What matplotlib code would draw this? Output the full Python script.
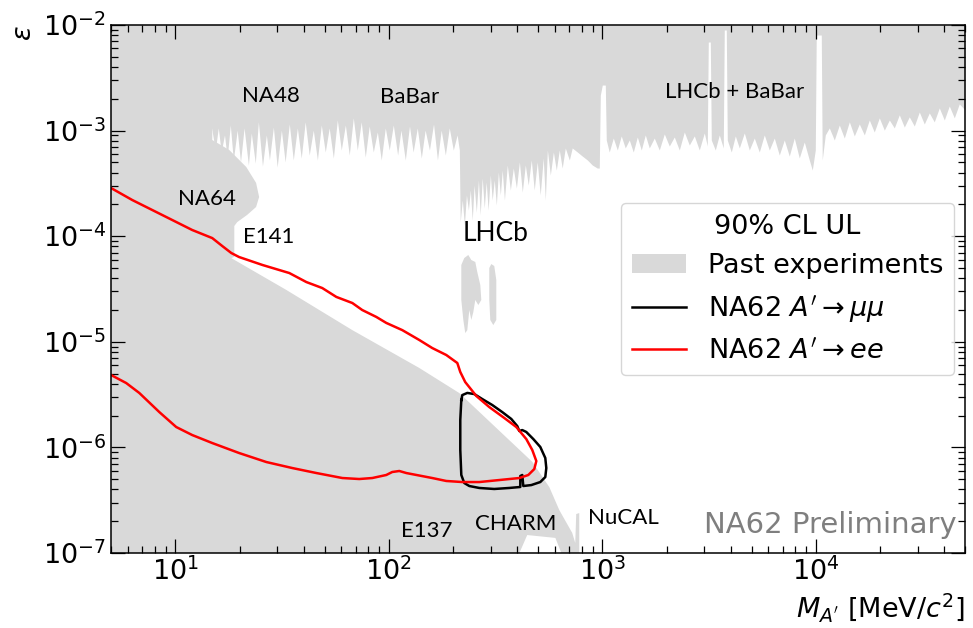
import numpy as np
import matplotlib.pyplot as plt

# --- excluded by past experiments: upper edge of the NA48 / BaBar / LHCb band ---
top_mass = [14.9, 15.4, 15.9, 16.4, 17.0, 17.5, 18.1, 18.7, 19.5, 20.2, 21.0, 22.0, 22.7, 23.7, 24.5,
            25.6, 26.7, 27.6, 28.8, 30.0, 31.4, 32.7, 34.2, 35.7, 37.3, 38.9, 40.6, 42.4, 44.3, 46.3,
            48.3, 50.4, 52.6, 55.0, 57.4, 59.9, 62.6, 65.3, 68.2, 71.2, 74.3, 77.6, 81.0, 84.6, 88.4,
            92.2, 96.3, 100.5, 105, 110, 114, 119.5, 125, 130, 136, 142, 148, 155, 162, 169, 176, 184,
            192, 200.5, 209,
            # LHCb
            214, 216, 221, 226, 231, 236, 241, 246, 251, 257, 263, 268, 274, 280, 286, 292, 299, 305,
            312, 319, 326, 333, 340, 348, 359, 371, 383, 396, 409, 422, 436, 450, 465, 480, 496, 512,
            529, 541, 553, 571, 590, 609, 629, 649, 671, 701, 723, 764, 806, 851, 898, 947, 968, 979,
            1000, 1033,
            # LHCb + BaBar
            1044, 1078, 1126, 1176, 1227, 1281, 1338, 1397, 1459, 1523, 1590, 1660, 1752, 1849, 1952,
            2060, 2174, 2295, 2422, 2556, 2698, 2847, 3005, 3103, 3137, 3206, 3240, 3383, 3532, 3687,
            3727, 3809, 3850, 4020, 4198, 4383, 4626, 4882, 5152, 5438, 5739, 6057, 6392, 6746, 7120,
            7514, 7930, 8369, 8833, 9324, 9630, 9947, 10050, 10610, 10720, 11080, 11570, 12210, 12890,
            13600, 14360, 15150, 15990, 16880, 17810, 18790, 19840, 20940, 22100, 23320, 24610, 25980,
            27410, 28940, 30540, 32230, 34010, 35890, 37890, 39990, 42200, 44540, 47000, 50000]
top_eps = [9.7e-4, 6.55e-4, 1.06e-3, 6.27e-4, 9.1e-4, 5.5e-4, 1.13e-3, 5.27e-4, 1.01e-3, 5.05e-4,
           1.06e-3, 4.72e-4, 9.5e-4, 4.93e-4, 1.21e-3, 4.62e-4, 9.1e-4, 5.27e-4, 1.08e-3, 4.52e-4,
           1.01e-3, 5.05e-4, 1.155e-3, 5.27e-4, 1.06e-3, 5.5e-4, 1.21e-3, 5.87e-4, 1.01e-3, 5.27e-4,
           1.13e-3, 6.27e-4, 1.06e-3, 5.5e-4, 1.26e-3, 6.55e-4, 1.13e-3, 5.87e-4, 1.32e-3, 6.55e-4,
           1.21e-3, 5.62e-4, 1.105e-3, 6.27e-4, 9.7e-4, 5.27e-4, 1.06e-3, 6.55e-4, 1.13e-3, 5.87e-4,
           1.01e-3, 5.27e-4, 1.105e-3, 6.27e-4, 1.06e-3, 5.5e-4, 1.01e-3, 6.55e-4, 1.155e-3, 5.27e-4,
           1.01e-3, 5.87e-4, 1.06e-3, 6.55e-4, 9.1e-4,
           6.55e-4, 1.36e-4, 2.20e-4, 1.28e-4, 2.46e-4, 1.77e-4, 2.74e-4, 1.42e-4, 3.05e-4, 1.69e-4,
           3.41e-4, 1.59e-4, 3.56e-4, 1.85e-4, 3.26e-4, 1.77e-4, 3.80e-4, 2.20e-4, 3.41e-4, 1.97e-4,
           4.05e-4, 2.46e-4, 4.23e-4, 2.20e-4, 4.72e-4, 2.74e-4, 4.42e-4, 2.86e-4, 5.05e-4, 2.62e-4,
           4.72e-4, 3.05e-4, 5.27e-4, 2.74e-4, 5.05e-4, 2.46e-4, 5.5e-4, 2.20e-4, 6.55e-4, 3.80e-4,
           6.27e-4, 4.23e-4, 6.55e-4, 4.42e-4, 6.85e-4, 5.27e-4, 6.85e-4, 6.27e-4, 5.74e-4, 5.27e-4,
           4.72e-4, 4.42e-4, 4.42e-4, 2.17e-3, 2.70e-3, 2.70e-3,
           8.15e-4, 6.27e-4, 8.5e-4, 6.55e-4, 8.9e-4, 6.85e-4, 8.15e-4, 6.27e-4, 8.7e-4, 6.55e-4,
           9.1e-4, 6.85e-4, 8.5e-4, 6.55e-4, 9.3e-4, 7.15e-4, 8.7e-4, 6.55e-4, 9.7e-4, 7.3e-4,
           8.9e-4, 6.55e-4, 9.5e-4, 7.15e-4, 6.90e-3, 6.90e-3, 8.15e-4, 6.55e-4, 9.1e-4, 6.85e-4,
           8.97e-3, 8.97e-3, 8.15e-4, 6.27e-4, 8.9e-4, 6.85e-4, 9.5e-4, 6.55e-4, 8.5e-4, 6.27e-4,
           9.1e-4, 6.55e-4, 8.5e-4, 5.87e-4, 8.15e-4, 5.74e-4, 8.5e-4, 5.5e-4, 7.8e-4, 5.27e-4,
           4.23e-4, 6.55e-4, 8.04e-3, 8.04e-3, 5.27e-4, 9.1e-4, 1.06e-3, 8.15e-4, 1.13e-3, 8.5e-4,
           1.21e-3, 8.9e-4, 1.155e-3, 9.1e-4, 1.26e-3, 9.7e-4, 1.32e-3, 1.01e-3, 1.26e-3, 1.06e-3,
           1.41e-3, 1.08e-3, 1.35e-3, 1.105e-3, 1.50e-3, 1.155e-3, 1.47e-3, 1.21e-3, 1.64e-3,
           1.26e-3, 1.71e-3, 1.32e-3, 1.79e-3, 1.57e-3]

# --- NA64, E141 and the beam dumps (E137, CHARM, NuCAL) as one closed outline ---
dump_mass = [5, 5, 18.7, 14.9, 14.9, 17.9, 21.5, 23.9, 24.7, 23.9, 21.7, 19.5, 18.9, 18.9, 18.3,
             33.1, 67.5, 139, 214, 470, 565, 629, 723, 747, 755, 780, 780, 643, 603, 445, 409]
dump_eps = [1e-7, 1e-2, 1e-2, 9.7e-4, 8.15e-4, 6.55e-4, 4.52e-4, 3.2e-4, 2.35e-4, 1.89e-4, 1.59e-4,
            1.36e-4, 1.25e-4, 6.4e-5, 6.2e-5, 3.1e-5, 1.29e-5, 5.65e-6, 3.27e-6, 7.3e-7, 4.2e-7,
            2.55e-7, 1.55e-7, 1.245e-7, 2.34e-7, 2.39e-7, 1e-7, 1e-7, 1.39e-7, 1.48e-7, 1e-7]

# --- LHCb displaced-vertex islands ---
isl1_mass = [218.6, 225.7, 235.7, 243.5, 254.2, 259.7, 268.3, 271.2, 262.6, 254.2, 248.8, 243.5,
             238.3, 233.2, 228.1, 223.4, 218.6]
isl1_eps = [5.34e-5, 6.21e-5, 6.64e-5, 5.95e-5, 5.70e-5, 4.58e-5, 3.45e-5, 2.49e-5, 2.23e-5, 2.49e-5,
            1.91e-5, 1.61e-5, 2.00e-5, 1.29e-5, 1.21e-5, 1.61e-5, 2.49e-5]
isl2_mass = [295.6, 302.1, 311.9, 318.8, 318.8, 308.7, 298.8, 295.6]
isl2_eps = [5.00e-5, 5.45e-5, 5.22e-5, 3.85e-5, 1.61e-5, 1.44e-5, 1.61e-5, 2.49e-5]

# --- NA62 A' -> ee contour ---
ee_mass = [5.0, 6.29, 9.07, 12.0, 14.9, 16.6, 18.3, 19.9, 25.6, 34.2, 41.1, 48.8, 56.8, 67.5, 75.1,
           87.4, 97.3, 115.7, 139, 159.8, 185.9, 209.4, 216.2, 228, 257, 295.6, 347.5, 395.6, 440.6,
           470, 490.9, 480.3, 450.2, 408.6, 329.4, 265.4, 221, 185.9, 159.8, 120.8, 112, 103.8, 97.3,
           83.7, 72.7, 60.6, 45.8, 35.3, 26.7, 19.9, 14.9, 12.0, 10.1, 8.42, 6.78, 5.89, 5.0]
ee_eps = [2.86e-4, 2.20e-4, 1.52e-4, 1.145e-4, 9.6e-5, 8.07e-5, 6.93e-5, 6.35e-5, 5.34e-5, 4.48e-5,
          3.68e-5, 3.23e-5, 2.66e-5, 2.33e-5, 2.00e-5, 1.72e-5, 1.51e-5, 1.29e-5, 1.04e-5, 8.73e-6,
          7.50e-6, 6.30e-6, 5.18e-6, 4.16e-6, 3.07e-6, 2.41e-6, 1.90e-6, 1.56e-6, 1.20e-6, 9.45e-7,
          7.43e-7, 6.24e-7, 5.48e-7, 5.13e-7, 4.91e-7, 4.70e-7, 4.70e-7, 4.81e-7, 5.13e-7, 5.72e-7,
          5.98e-7, 5.85e-7, 5.48e-7, 5.13e-7, 5.02e-7, 5.13e-7, 5.72e-7, 6.38e-7, 7.27e-7, 8.85e-7,
          1.10e-6, 1.31e-6, 1.56e-6, 2.16e-6, 3.28e-6, 4.07e-6, 4.85e-6]

# --- NA62 A' -> mumu contour ---
mm_mass = [218.6, 221, 233.2, 251.5, 274.1, 305.3, 340.1, 374.7, 399.9, 408.6, 421.9, 440.6, 475.2,
           512.4, 540.8, 546.7, 540.8, 512.4, 465.0, 426.6, 421.9, 413.0, 413.0, 366.7, 311.9, 265.4,
           238.3, 225.7, 218.6, 216.2, 216.2, 218.6]
mm_eps = [2.81e-6, 3.13e-6, 3.28e-6, 3.20e-6, 2.87e-6, 2.52e-6, 2.16e-6, 1.86e-6, 1.59e-6, 1.43e-6,
          1.46e-6, 1.40e-6, 1.20e-6, 1.01e-6, 7.94e-7, 6.38e-7, 5.24e-7, 4.70e-7, 4.40e-7, 4.31e-7,
          5.48e-7, 5.36e-7, 4.22e-7, 4.13e-7, 4.04e-7, 4.13e-7, 4.31e-7, 4.60e-7, 5.48e-7, 9.45e-7,
          1.82e-6, 2.81e-6]

# experiment names: (text, mass, eps, size)
names = [('NA48', 28.2, 2.13e-3, 16), ('BaBar', 124.7, 2.1e-3, 16), ('LHCb + BaBar', 4150, 2.32e-3, 16),
         ('NA64', 14.0, 2.23e-4, 16), ('E141', 27.3, 9.8e-5, 16), ('LHCb', 315, 1.07e-4, 19),
         ('E137', 151, 1.62e-7, 16), ('CHARM', 391, 1.9e-7, 16), ('NuCAL', 1253, 2.14e-7, 16)]

grey = '#d9d9d9'
fs = 19.5

fig = plt.figure(figsize=(9.73, 6.28), dpi=100)
ax = fig.add_axes([0.1141, 0.1194, 0.8777, 0.8408])
ax.set_xscale('log')
ax.set_yscale('log')

ax.fill_between(top_mass, top_eps, 1e-2, color=grey, lw=0, label='Past experiments')
ax.fill(dump_mass, dump_eps, color=grey, lw=0)
ax.fill(isl1_mass, isl1_eps, color=grey, lw=0)
ax.fill(isl2_mass, isl2_eps, color=grey, lw=0)

ax.plot(mm_mass, mm_eps, color='black', lw=1.8, label=r"NA62 $A'\rightarrow\mu\mu$")
ax.plot(ee_mass, ee_eps, color='red', lw=1.8, label=r"NA62 $A'\rightarrow ee$")

for txt, m, e, s in names:
    ax.text(m, e, txt, fontsize=s, family='Lato', ha='center', va='center')

ax.text(11700, 1.84e-7, 'NA62 Preliminary', fontsize=21, color='#7f7f7f', ha='center', va='center')

ax.set_xlim(5, 5e4)
ax.set_ylim(1e-7, 1e-2)
ax.set_xlabel(r"$M_{A'}$ [MeV/$c^2$]", loc='right', fontsize=fs)
ax.set_ylabel(r'$\varepsilon$', loc='top', fontsize=fs)

ax.tick_params(which='both', direction='in', top=True, right=True, labelsize=fs)
ax.tick_params(which='major', length=10, width=0.9)
ax.tick_params(which='minor', length=5, width=0.9)
for sp in ax.spines.values():
    sp.set_linewidth(1.1)

leg = ax.legend(title='90% CL UL', fontsize=fs, title_fontsize=fs, loc='upper right',
                bbox_to_anchor=(0.987, 0.663), borderaxespad=0)

fig.savefig('out.png', dpi=100)
